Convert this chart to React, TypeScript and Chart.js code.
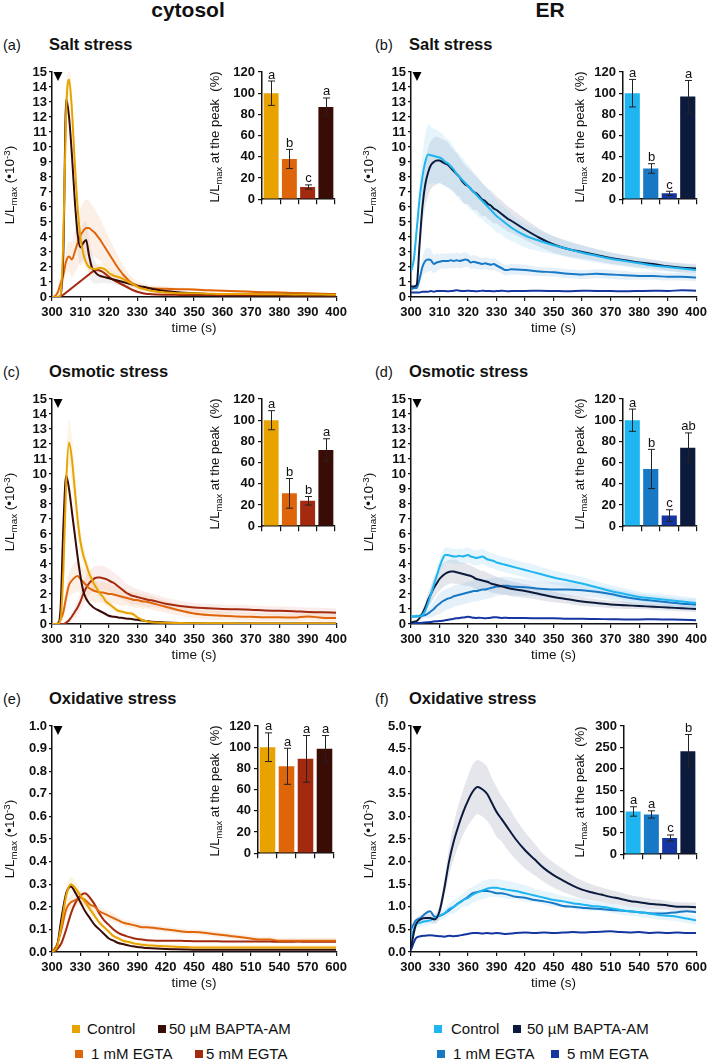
import React, { useEffect, useRef } from "react";
import { Chart, registerables } from "chart.js";

Chart.register(...registerables);

const FONT = '"Liberation Sans", Arial, Helvetica, sans-serif';
const INK = "#111111";
Chart.defaults.font.family = FONT;
Chart.defaults.color = INK;

// ---------------- time axes ----------------
const time100 = [
  300, 301, 302, 303, 304, 305, 306, 307, 308, 309,
  310, 311, 312, 313, 314, 315, 316, 317, 318, 319,
  320, 321, 322, 323, 324, 325, 326, 327, 328, 329,
  330, 331, 332, 333, 334, 335,
  340, 345, 350, 355, 360, 365, 370, 375, 380, 385, 390, 395, 400,
];
const time600 = [
  300, 305, 310, 315, 320, 325, 330, 335, 340, 345,
  350, 355, 360, 365, 370, 375, 380, 385, 390, 395,
  400, 410, 420, 430, 440, 450, 460, 470, 480, 490,
  500, 510, 520, 530, 540, 550, 560, 570, 580, 590, 600,
];

const treatmentNames = ["Control", "1 mM EGTA", "5 mM EGTA", "50 µM BAPTA-AM"];

// ---------------- (a) cytosol, salt ----------------
const aControl = [
  0, 0, 0, 0.1, 4, 12.5, 14.5, 12.5, 9, 6,
  4, 2.9, 2.3, 2.0, 1.9, 1.85, 1.9, 1.95, 1.9, 1.8,
  1.6, 1.5, 1.4, 1.35, 1.3, 1.2, 1.1, 1.0, 0.9, 0.8,
  0.7, 0.6, 0.55, 0.5, 0.45, 0.4,
  0.3, 0.25, 0.25, 0.22, 0.2, 0.2, 0.2, 0.18, 0.18, 0.17, 0.17, 0.16, 0.15,
];
const aControlSD = [
  0, 0, 0, 0.2, 0.8, 1.0, 1.0, 1.2, 1.0, 0.8,
  0.6, 0.5, 0.4, 0.35, 0.3, 0.3, 0.3, 0.3, 0.3, 0.3,
  0.3, 0.25, 0.25, 0.25, 0.2, 0.2, 0.2, 0.2, 0.15, 0.15,
  0.15, 0.1, 0.1, 0.1, 0.1, 0.1,
  0.1, 0.08, 0.08, 0.08, 0.08, 0.06, 0.06, 0.06, 0.06, 0.05, 0.05, 0.05, 0.05,
];
const aEGTA1 = [
  0, 0.05, 0.3, 0.9, 1.5, 2.4, 2.7, 2.5, 3.0, 3.6,
  4.1, 4.4, 4.6, 4.6, 4.45, 4.3, 4.05, 3.8, 3.5, 3.2,
  2.9, 2.6, 2.3, 2.0, 1.75, 1.5, 1.3, 1.1, 0.95, 0.85,
  0.75, 0.7, 0.65, 0.62, 0.6, 0.58,
  0.55, 0.52, 0.5, 0.45, 0.42, 0.38, 0.35, 0.32, 0.3, 0.27, 0.25, 0.22, 0.2,
];
const aEGTA1SD = [
  0, 0, 0.2, 0.4, 0.6, 0.8, 1.0, 1.2, 1.4, 1.6,
  1.8, 1.9, 1.9, 1.8, 1.7, 1.6, 1.5, 1.4, 1.3, 1.2,
  1.1, 1.0, 0.9, 0.8, 0.7, 0.6, 0.5, 0.45, 0.4, 0.35,
  0.3, 0.3, 0.25, 0.25, 0.2, 0.2,
  0.15, 0.1, 0.1, 0.08, 0.08, 0.08, 0.08, 0.06, 0.06, 0.06, 0.06, 0.05, 0.05,
];
const aEGTA5 = [
  0, 0, 0, 0.05, 0.15, 0.3, 0.45, 0.6, 0.75, 0.9,
  1.05, 1.2, 1.35, 1.5, 1.65, 1.75, 1.8, 1.75, 1.65, 1.5,
  1.35, 1.2, 1.1, 1.0, 0.9, 0.8, 0.7, 0.6, 0.5, 0.42,
  0.35, 0.3, 0.25, 0.22, 0.2, 0.18,
  0.15, 0.14, 0.13, 0.13, 0.12, 0.12, 0.12, 0.11, 0.11, 0.1, 0.1, 0.1, 0.1,
];
const aBAPTA = [
  0, 0, 0, 0, 3, 13.2, 12, 9.5, 6.5, 4.2,
  3.3, 3.6, 3.8, 2.8, 2.0, 1.7, 1.5, 1.4, 1.35, 1.3,
  1.25, 1.2, 1.15, 1.1, 1.05, 1.0, 0.95, 0.9, 0.85, 0.8,
  0.75, 0.7, 0.68, 0.65, 0.6, 0.55,
  0.4, 0.3, 0.25, 0.2, 0.2, 0.18, 0.18, 0.17, 0.16, 0.16, 0.15, 0.15, 0.15,
];
const aBAPTASD = [
  0, 0, 0, 0, 0.3, 0.5, 0.5, 0.6, 0.8, 1.0,
  1.2, 1.3, 1.3, 1.2, 1.0, 0.8, 0.6, 0.5, 0.4, 0.4,
  0.35, 0.3, 0.3, 0.3, 0.25, 0.25, 0.2, 0.2, 0.2, 0.15,
  0.15, 0.15, 0.1, 0.1, 0.1, 0.1,
  0.08, 0.06, 0.05, 0.05, 0.05, 0.05, 0.05, 0.05, 0.05, 0.05, 0.05, 0.05, 0.05,
];
const aPeak = [100, 38, 11.5, 87];
const aPeakSD = [11.5, 9, 2, 8.5];
const aLetters = ["a", "b", "c", "a"];

// ---------------- (b) ER, salt ----------------
const bControl = [
  1.7, 2.5, 4.5, 6.5, 8.0, 9.0, 9.5, 9.45, 9.4, 9.35,
  9.3, 9.2, 9.0, 8.9, 8.7, 8.5, 8.2, 8.0, 7.8, 7.6,
  7.4, 7.2, 7.0, 6.8, 6.6, 6.4, 6.2, 6.0, 5.8, 5.6,
  5.4, 5.25, 5.1, 4.95, 4.8, 4.65,
  4.1, 3.75, 3.45, 3.2, 2.95, 2.75, 2.55, 2.4, 2.25, 2.1, 2.0, 1.9, 1.8,
];
const bControlSD = [
  0.3, 0.5, 0.8, 1.2, 1.5, 1.8, 2.0, 1.9, 1.8, 1.8,
  1.7, 1.7, 1.6, 1.6, 1.6, 1.5, 1.5, 1.5, 1.5, 1.4,
  1.4, 1.4, 1.3, 1.3, 1.3, 1.2, 1.2, 1.2, 1.1, 1.1,
  1.1, 1.0, 1.0, 1.0, 0.95, 0.9,
  0.8, 0.7, 0.6, 0.55, 0.5, 0.45, 0.4, 0.38, 0.35, 0.33, 0.3, 0.3, 0.3,
];
const bEGTA1 = [
  0.5, 0.6, 0.6, 1.2, 2.0, 2.4, 2.5, 2.45, 2.2, 2.3,
  2.35, 2.4, 2.4, 2.4, 2.45, 2.4, 2.45, 2.4, 2.45, 2.5,
  2.45, 2.3, 2.35, 2.3, 2.25, 2.2, 2.25, 2.2, 2.15, 2.2,
  2.1, 2.0, 1.9, 1.8, 1.8, 1.85,
  1.8, 1.7, 1.65, 1.55, 1.5, 1.55, 1.5, 1.45, 1.4, 1.4, 1.35, 1.35, 1.3,
];
const bEGTA1SD = [
  0.1, 0.1, 0.2, 0.4, 0.6, 0.8, 0.8, 0.7, 0.6, 0.6,
  0.5, 0.5, 0.5, 0.5, 0.5, 0.5, 0.5, 0.5, 0.5, 0.5,
  0.45, 0.45, 0.45, 0.45, 0.4, 0.4, 0.4, 0.4, 0.4, 0.4,
  0.4, 0.35, 0.35, 0.35, 0.35, 0.35,
  0.35, 0.3, 0.3, 0.3, 0.3, 0.3, 0.3, 0.3, 0.25, 0.25, 0.25, 0.25, 0.25,
];
const bEGTA5 = [
  0.3, 0.3, 0.3, 0.3, 0.35, 0.35, 0.35, 0.4, 0.35, 0.4,
  0.4, 0.4, 0.4, 0.38, 0.4, 0.42, 0.45, 0.42, 0.4, 0.4,
  0.42, 0.4, 0.4, 0.38, 0.4, 0.42, 0.4, 0.4, 0.4, 0.38,
  0.4, 0.4, 0.42, 0.4, 0.38, 0.4,
  0.4, 0.42, 0.4, 0.38, 0.42, 0.4, 0.4, 0.38, 0.4, 0.42, 0.4, 0.45, 0.42,
];
const bBAPTA = [
  0.7, 0.7, 0.8, 3.5, 6.0, 7.5, 8.3, 8.8, 9.0, 9.1,
  9.1, 9.0, 8.9, 8.8, 8.6, 8.4, 8.2, 8.0, 7.7, 7.5,
  7.4, 7.2, 7.0, 6.9, 6.7, 6.5, 6.4, 6.2, 6.1, 5.9,
  5.8, 5.65, 5.5, 5.35, 5.2, 5.1,
  4.5, 3.95, 3.5, 3.2, 3.0, 2.8, 2.6, 2.45, 2.3, 2.2, 2.05, 1.95, 1.9,
];
const bBAPTASD = [
  0.1, 0.1, 0.2, 0.8, 1.2, 1.5, 1.6, 1.6, 1.6, 1.6,
  1.5, 1.5, 1.5, 1.5, 1.4, 1.4, 1.4, 1.3, 1.3, 1.3,
  1.2, 1.2, 1.2, 1.1, 1.1, 1.1, 1.0, 1.0, 1.0, 1.0,
  0.9, 0.9, 0.9, 0.85, 0.85, 0.8,
  0.7, 0.6, 0.55, 0.5, 0.45, 0.4, 0.38, 0.35, 0.33, 0.3, 0.3, 0.3, 0.3,
];
const bPeak = [100, 29, 5.5, 97];
const bPeakSD = [13, 4.5, 2, 15];
const bLetters = ["a", "b", "c", "a"];

// ---------------- (c) cytosol, osmotic ----------------
const cControl = [
  0, 0, 0, 0.3, 3.5, 9.5, 12.1, 11, 9, 7,
  5.5, 4.6, 4.0, 3.4, 3.0, 2.6, 2.3, 2.0, 1.8, 1.5,
  1.35, 1.2, 1.05, 0.9, 0.85, 0.8, 0.75, 0.72, 0.7, 0.6,
  0.45, 0.35, 0.25, 0.2, 0.15, 0.12,
  0.08, 0.06, 0.05, 0.05, 0.05, 0.04, 0.04, 0.04, 0.04, 0.04, 0.04, 0.04, 0.04,
];
const cControlSD = [
  0, 0, 0, 0.2, 0.8, 1.2, 1.5, 1.5, 1.2, 1.0,
  0.8, 0.7, 0.6, 0.5, 0.45, 0.4, 0.35, 0.3, 0.3, 0.3,
  0.25, 0.25, 0.2, 0.2, 0.2, 0.2, 0.15, 0.15, 0.15, 0.15,
  0.1, 0.1, 0.1, 0.1, 0.08, 0.08,
  0.05, 0.05, 0.05, 0.05, 0.04, 0.04, 0.04, 0.04, 0.04, 0.04, 0.04, 0.04, 0.04,
];
const cEGTA1 = [
  0, 0, 0.05, 0.3, 0.8, 1.8, 2.6, 2.9, 3.1, 3.2,
  3.0, 2.8, 2.6, 2.4, 2.3, 2.2, 2.15, 2.1, 2.1, 2.05,
  2.0, 2.0, 1.95, 1.9, 1.85, 1.8, 1.75, 1.7, 1.65, 1.6,
  1.6, 1.55, 1.5, 1.5, 1.45, 1.4,
  1.15, 0.9, 0.7, 0.6, 0.55, 0.5, 0.48, 0.45, 0.45, 0.43, 0.5, 0.42, 0.4,
];
const cEGTA1SD = [
  0, 0, 0, 0.2, 0.4, 0.6, 0.8, 0.9, 1.0, 1.0,
  1.0, 0.9, 0.9, 0.8, 0.8, 0.8, 0.7, 0.7, 0.7, 0.7,
  0.7, 0.6, 0.6, 0.6, 0.6, 0.6, 0.5, 0.5, 0.5, 0.5,
  0.5, 0.5, 0.5, 0.45, 0.45, 0.45,
  0.4, 0.35, 0.3, 0.3, 0.3, 0.25, 0.25, 0.25, 0.25, 0.25, 0.25, 0.25, 0.25,
];
const cEGTA5 = [
  0, 0, 0, 0, 0, 0.1, 0.25, 0.5, 0.8, 1.1,
  1.5, 2.0, 2.4, 2.7, 2.9, 3.05, 3.1, 3.1, 3.05, 3.0,
  2.9, 2.8, 2.7, 2.55, 2.4, 2.25, 2.1, 2.0, 1.9, 1.85,
  1.8, 1.75, 1.7, 1.65, 1.6, 1.58,
  1.35, 1.2, 1.1, 1.05, 1.0, 0.98, 0.95, 0.9, 0.88, 0.85, 0.8, 0.78, 0.75,
];
const cEGTA5SD = [
  0, 0, 0, 0, 0, 0.1, 0.2, 0.3, 0.4, 0.5,
  0.6, 0.7, 0.8, 0.8, 0.8, 0.8, 0.8, 0.8, 0.8, 0.8,
  0.75, 0.75, 0.7, 0.7, 0.7, 0.65, 0.6, 0.6, 0.6, 0.55,
  0.55, 0.5, 0.5, 0.5, 0.5, 0.45,
  0.4, 0.35, 0.3, 0.3, 0.3, 0.3, 0.3, 0.3, 0.3, 0.3, 0.3, 0.3, 0.3,
];
const cBAPTA = [
  0, 0, 0, 1.0, 6.5, 9.9, 9.0, 7.5, 6.0, 4.5,
  3.2, 2.2, 1.7, 1.4, 1.2, 1.05, 0.95, 0.85, 0.75, 0.65,
  0.55, 0.5, 0.48, 0.45, 0.42, 0.4, 0.37, 0.35, 0.33, 0.3,
  0.28, 0.25, 0.23, 0.2, 0.18, 0.15,
  0.1, 0.07, 0.05, 0.04, 0.04, 0.04, 0.04, 0.04, 0.04, 0.04, 0.04, 0.04, 0.04,
];
const cPeak = [100, 31, 24, 72];
const cPeakSD = [9, 14, 4, 10.5];
const cLetters = ["a", "b", "b", "a"];

// ---------------- (d) ER, osmotic ----------------
const dControl = [
  0.5, 0.5, 0.55, 0.5, 0.6, 0.9, 1.4, 2.0, 2.6, 3.2,
  3.8, 4.3, 4.6, 4.6, 4.55, 4.5, 4.5, 4.55, 4.5, 4.55,
  4.6, 4.5, 4.45, 4.4, 4.45, 4.5, 4.4, 4.3, 4.25, 4.2,
  4.1, 4.05, 4.0, 3.95, 3.9, 3.85,
  3.6, 3.35, 3.1, 2.9, 2.7, 2.45, 2.2, 2.0, 1.8, 1.7, 1.6, 1.5, 1.4,
];
const dControlSD = [
  0.1, 0.1, 0.1, 0.1, 0.2, 0.3, 0.4, 0.5, 0.5, 0.5,
  0.5, 0.5, 0.5, 0.5, 0.5, 0.5, 0.5, 0.5, 0.5, 0.5,
  0.5, 0.5, 0.5, 0.5, 0.5, 0.5, 0.5, 0.5, 0.5, 0.5,
  0.5, 0.5, 0.5, 0.5, 0.5, 0.5,
  0.5, 0.5, 0.45, 0.45, 0.45, 0.4, 0.4, 0.4, 0.35, 0.35, 0.35, 0.35, 0.35,
];
const dEGTA1 = [
  0.5, 0.5, 0.5, 0.55, 0.55, 0.6, 0.7, 0.85, 1.0, 1.2,
  1.35, 1.5, 1.6, 1.7, 1.75, 1.85, 1.9, 1.95, 2.0, 2.05,
  2.1, 2.15, 2.2, 2.2, 2.25, 2.3, 2.3, 2.35, 2.4, 2.45,
  2.5, 2.5, 2.55, 2.55, 2.55, 2.5,
  2.45, 2.35, 2.3, 2.3, 2.25, 2.15, 2.0, 1.8, 1.65, 1.55, 1.45, 1.35, 1.3,
];
const dEGTA1SD = [
  0.1, 0.1, 0.1, 0.1, 0.1, 0.2, 0.3, 0.4, 0.5, 0.6,
  0.7, 0.7, 0.7, 0.7, 0.7, 0.7, 0.7, 0.7, 0.7, 0.7,
  0.7, 0.7, 0.7, 0.7, 0.7, 0.7, 0.65, 0.65, 0.65, 0.65,
  0.6, 0.6, 0.6, 0.6, 0.6, 0.6,
  0.55, 0.5, 0.5, 0.45, 0.45, 0.4, 0.4, 0.4, 0.35, 0.35, 0.35, 0.35, 0.35,
];
const dEGTA5 = [
  0.05, 0.05, 0.06, 0.07, 0.08, 0.1, 0.12, 0.14, 0.16, 0.18,
  0.2, 0.22, 0.25, 0.28, 0.32, 0.35, 0.38, 0.4, 0.43, 0.45,
  0.48, 0.45, 0.42, 0.4, 0.42, 0.4, 0.38, 0.4, 0.42, 0.45,
  0.45, 0.42, 0.4, 0.42, 0.4, 0.4,
  0.4, 0.38, 0.38, 0.35, 0.35, 0.33, 0.32, 0.3, 0.3, 0.32, 0.3, 0.28, 0.25,
];
const dBAPTA = [
  0.1, 0.15, 0.2, 0.4, 0.7, 1.1, 1.6, 2.0, 2.4, 2.7,
  3.0, 3.2, 3.35, 3.45, 3.5, 3.5, 3.45, 3.4, 3.35, 3.3,
  3.25, 3.2, 3.1, 3.0, 2.95, 2.9, 2.85, 2.8, 2.7, 2.65,
  2.6, 2.55, 2.5, 2.45, 2.4, 2.35,
  2.2, 2.0, 1.8, 1.65, 1.5, 1.4, 1.3, 1.25, 1.2, 1.15, 1.1, 1.05, 1.0,
];
const dBAPTASD = [
  0, 0.05, 0.1, 0.2, 0.3, 0.4, 0.5, 0.6, 0.7, 0.7,
  0.8, 0.8, 0.8, 0.8, 0.8, 0.8, 0.8, 0.75, 0.75, 0.75,
  0.7, 0.7, 0.7, 0.7, 0.65, 0.65, 0.65, 0.6, 0.6, 0.6,
  0.55, 0.55, 0.55, 0.5, 0.5, 0.5,
  0.45, 0.4, 0.35, 0.3, 0.3, 0.25, 0.25, 0.25, 0.2, 0.2, 0.2, 0.2, 0.2,
];
const dPeak = [100, 54, 10, 74];
const dPeakSD = [10.5, 18.5, 5.5, 14];
const dLetters = ["a", "b", "c", "ab"];

// ---------------- (e) cytosol, oxidative ----------------
const eControl = [
  0, 0.02, 0.12, 0.25, 0.3, 0.28, 0.25, 0.22, 0.19, 0.16,
  0.13, 0.11, 0.09, 0.07, 0.06, 0.05, 0.045, 0.04, 0.035, 0.032,
  0.03, 0.028, 0.025, 0.023, 0.022, 0.02, 0.02, 0.02, 0.02, 0.02,
  0.02, 0.02, 0.02, 0.02, 0.02, 0.02, 0.02, 0.02, 0.02, 0.02, 0.02,
];
const eControlSD = [
  0, 0.01, 0.02, 0.03, 0.035, 0.03, 0.025, 0.02, 0.02, 0.015,
  0.015, 0.012, 0.01, 0.01, 0.01, 0.01, 0.01, 0.01, 0.01, 0.01,
  0.01, 0.01, 0.01, 0.01, 0.01, 0.01, 0.01, 0.01, 0.01, 0.01,
  0.01, 0.01, 0.01, 0.01, 0.01, 0.01, 0.01, 0.01, 0.01, 0.01, 0.01,
];
const eEGTA1 = [
  0, 0.03, 0.1, 0.19, 0.22, 0.23, 0.24, 0.23, 0.21, 0.2,
  0.18, 0.17, 0.16, 0.15, 0.14, 0.13, 0.125, 0.12, 0.115, 0.11,
  0.11, 0.105, 0.1, 0.095, 0.09, 0.088, 0.085, 0.08, 0.075, 0.07,
  0.065, 0.06, 0.055, 0.055, 0.05, 0.05, 0.05, 0.05, 0.05, 0.05, 0.05,
];
const eEGTA1SD = [
  0, 0.01, 0.02, 0.03, 0.03, 0.03, 0.03, 0.03, 0.025, 0.025,
  0.02, 0.02, 0.02, 0.02, 0.015, 0.015, 0.015, 0.015, 0.015, 0.015,
  0.012, 0.012, 0.012, 0.012, 0.012, 0.012, 0.012, 0.012, 0.012, 0.012,
  0.012, 0.012, 0.012, 0.012, 0.012, 0.012, 0.012, 0.012, 0.012, 0.012, 0.012,
];
const eEGTA5 = [
  0, 0.01, 0.04, 0.1, 0.17, 0.22, 0.25, 0.26, 0.24, 0.21,
  0.17, 0.14, 0.12, 0.1, 0.085, 0.075, 0.068, 0.062, 0.058, 0.055,
  0.052, 0.05, 0.05, 0.05, 0.049, 0.048, 0.048, 0.048, 0.047, 0.047,
  0.047, 0.046, 0.046, 0.046, 0.045, 0.045, 0.046, 0.045, 0.045, 0.045, 0.045,
];
const eBAPTA = [
  0, 0.02, 0.15, 0.26, 0.29, 0.26, 0.22, 0.18, 0.15, 0.12,
  0.1, 0.08, 0.06, 0.05, 0.04, 0.035, 0.03, 0.025, 0.022, 0.02,
  0.018, 0.015, 0.013, 0.012, 0.011, 0.01, 0.01, 0.01, 0.01, 0.01,
  0.01, 0.01, 0.01, 0.01, 0.01, 0.01, 0.01, 0.01, 0.01, 0.01, 0.01,
];
const ePeak = [100, 82, 89, 98.5];
const ePeakSD = [13.5, 17, 22, 12.5];
const eLetters = ["a", "a", "a", "a"];

// ---------------- (f) ER, oxidative ----------------
const fControl = [
  0.3, 0.6, 0.65, 0.68, 0.7, 0.75, 0.8, 0.85, 0.95, 1.0,
  1.08, 1.15, 1.2, 1.27, 1.32, 1.36, 1.4, 1.42, 1.42, 1.4,
  1.38, 1.35, 1.3, 1.25, 1.2, 1.15, 1.12, 1.08, 1.05, 1.02,
  1.0, 0.97, 0.93, 0.9, 0.88, 0.85, 0.82, 0.8, 0.78, 0.74, 0.7,
];
const fControlSD = [
  0.05, 0.1, 0.1, 0.1, 0.1, 0.1, 0.1, 0.12, 0.12, 0.15,
  0.15, 0.15, 0.18, 0.18, 0.18, 0.2, 0.2, 0.2, 0.2, 0.2,
  0.2, 0.18, 0.18, 0.15, 0.15, 0.15, 0.12, 0.12, 0.12, 0.1,
  0.1, 0.1, 0.1, 0.1, 0.1, 0.1, 0.1, 0.1, 0.1, 0.1, 0.1,
];
const fEGTA1 = [
  0.5, 0.7, 0.75, 0.85, 0.9, 0.78, 0.8, 0.85, 0.92, 1.0,
  1.08, 1.15, 1.22, 1.3, 1.33, 1.35, 1.35, 1.33, 1.3, 1.3,
  1.28, 1.22, 1.2, 1.15, 1.12, 1.08, 1.02, 1.0, 0.98, 0.96,
  0.95, 0.93, 0.92, 0.9, 0.88, 0.86, 0.85, 0.86, 0.88, 0.9, 0.88,
];
const fEGTA5 = [
  0.05, 0.3, 0.35, 0.36, 0.37, 0.36, 0.35, 0.34, 0.36, 0.35,
  0.36, 0.38, 0.4, 0.42, 0.42, 0.41, 0.42, 0.41, 0.42, 0.41,
  0.4, 0.42, 0.43, 0.42, 0.43, 0.42, 0.43, 0.44, 0.43, 0.44,
  0.45, 0.46, 0.44, 0.43, 0.44, 0.42, 0.43, 0.42, 0.43, 0.42, 0.42,
];
const fBAPTA = [
  0.1, 0.6, 0.72, 0.75, 0.75, 0.72, 0.9, 1.4, 2.0, 2.45,
  2.8, 3.1, 3.35, 3.55, 3.65, 3.6, 3.5, 3.3, 3.1, 2.95,
  2.8, 2.5, 2.25, 2.05, 1.85, 1.7, 1.58, 1.47, 1.38, 1.32,
  1.27, 1.22, 1.18, 1.13, 1.1, 1.07, 1.05, 1.03, 1.0, 1.0, 0.99,
];
const fBAPTASD = [
  0.05, 0.1, 0.1, 0.1, 0.1, 0.1, 0.15, 0.2, 0.3, 0.4,
  0.45, 0.5, 0.55, 0.6, 0.6, 0.6, 0.6, 0.55, 0.55, 0.5,
  0.5, 0.45, 0.4, 0.35, 0.3, 0.28, 0.25, 0.22, 0.2, 0.18,
  0.16, 0.15, 0.14, 0.13, 0.12, 0.12, 0.11, 0.1, 0.1, 0.1, 0.1,
];
const fPeak = [100, 93, 38, 241];
const fPeakSD = [11, 8.5, 7, 39];
const fLetters = ["a", "a", "c", "b"];

// ---------------- colours ----------------
const cytoColors = ["#E9A300", "#DF650A", "#A3290F", "#3A0C06"];
const erColors = ["#1FB5F0", "#1779C6", "#1536A1", "#0B1A3D"];
const cytoBand = ["rgba(240,200,120,0.2)", "rgba(242,175,125,0.2)", "rgba(225,160,150,0.18)", "rgba(175,165,165,0.18)"];
const erBand = ["rgba(140,205,240,0.22)", "rgba(130,180,225,0.2)", "rgba(120,140,210,0.2)", "rgba(185,190,205,0.38)"];

// ---------------- plugins ----------------
const stimulusPlugin = {
  id: "stimulus",
  afterDraw(chart: any) {
    const { ctx, chartArea } = chart;
    const x0 = chartArea.left + 6;
    const y0 = chartArea.top;
    ctx.save();
    ctx.fillStyle = "#000";
    ctx.beginPath();
    ctx.moveTo(x0 - 4.5, y0);
    ctx.lineTo(x0 + 4.5, y0);
    ctx.lineTo(x0, y0 + 9);
    ctx.closePath();
    ctx.fill();
    ctx.restore();
  },
};

const errorBarPlugin = {
  id: "errBars",
  afterDatasetsDraw(chart: any, _args: any, opts: any) {
    const { ctx } = chart;
    const y = chart.scales.y;
    const meta = chart.getDatasetMeta(0);
    const vals = chart.data.datasets[0].data;
    ctx.save();
    meta.data.forEach((bar: any, i: number) => {
      const v = vals[i];
      const yt = y.getPixelForValue(v + opts.errs[i]);
      const yb = y.getPixelForValue(v - opts.errs[i]);
      const x = Math.round(bar.x) + 0.5;
      ctx.strokeStyle = "#222";
      ctx.lineWidth = 1;
      ctx.beginPath();
      ctx.moveTo(x, yt);
      ctx.lineTo(x, yb);
      ctx.moveTo(x - 3.5, yt);
      ctx.lineTo(x + 3.5, yt);
      ctx.moveTo(x - 3.5, yb);
      ctx.lineTo(x + 3.5, yb);
      ctx.stroke();
      ctx.fillStyle = INK;
      ctx.font = `13px ${FONT}`;
      ctx.textAlign = "center";
      ctx.textBaseline = "alphabetic";
      ctx.fillText(opts.letters[i], x, yt - 2.5);
    });
    ctx.restore();
  },
};

// ---------------- components ----------------
function LineChart({ cfg }: any) {
  const ref = useRef<HTMLCanvasElement>(null);
  const { plot, times, series, xMax, xStep, yMax, yStep, dec } = cfg;
  const YW = 52, XH = 40, PT = 12, PR = 14;
  const w = plot.r - plot.l + YW + PR;
  const h = plot.b - plot.t + PT + XH;
  useEffect(() => {
    const datasets: any[] = [];
    series.forEach((s: any) => {
      if (s.sd) {
        datasets.push({
          data: times.map((t: number, i: number) => ({ x: t, y: s.values[i] + s.sd[i] })),
          borderColor: "transparent", borderWidth: 0, pointRadius: 0, fill: false, order: 10,
          cubicInterpolationMode: "monotone",
        });
        datasets.push({
          data: times.map((t: number, i: number) => ({ x: t, y: Math.max(0, s.values[i] - s.sd[i]) })),
          borderColor: "transparent", borderWidth: 0, pointRadius: 0, fill: "-1",
          backgroundColor: s.band, order: 10, cubicInterpolationMode: "monotone",
        });
      }
    });
    series.forEach((s: any) => {
      datasets.push({
        data: times.map((t: number, i: number) => ({ x: t, y: s.values[i] })),
        borderColor: s.color, borderWidth: 2, pointRadius: 0, fill: false, order: s.order,
        cubicInterpolationMode: "monotone",
      });
    });
    const chart = new Chart(ref.current as HTMLCanvasElement, {
      type: "line",
      data: { datasets },
      options: {
        responsive: false,
        animation: false,
        events: [],
        layout: { padding: { top: PT, right: PR, left: 0, bottom: 0 } },
        plugins: { legend: { display: false }, tooltip: { enabled: false } },
        scales: {
          x: {
            type: "linear", min: 300, max: xMax,
            ticks: { stepSize: xStep, autoSkip: false, maxRotation: 0, padding: 4, color: INK, font: { size: 13, weight: "bold" } },
            grid: { drawOnChartArea: false, drawTicks: true, tickLength: 4, tickColor: INK, lineWidth: 1.2 },
            border: { color: INK, width: 1.5 },
            title: { display: true, text: "time (s)", color: INK, font: { size: 13.5 }, padding: { top: 0, bottom: 1 } },
            afterFit: (s: any) => { s.height = XH; },
          },
          y: {
            min: 0, max: yMax,
            ticks: { stepSize: yStep, autoSkip: false, padding: 2, color: INK, font: { size: 13, weight: "bold" },
              callback: (v: any) => Number(v).toFixed(dec) },
            grid: { drawOnChartArea: false, drawTicks: true, tickLength: 3, tickColor: INK, lineWidth: 1.2 },
            border: { color: INK, width: 1.5 },
            afterFit: (s: any) => { s.width = YW; },
          },
        },
      } as any,
      plugins: [stimulusPlugin],
    });
    return () => chart.destroy();
  }, []);
  return (
    <canvas ref={ref} width={w} height={h}
      style={{ position: "absolute", left: plot.l - YW, top: plot.t - PT, width: w, height: h }} />
  );
}

function InsetBar({ cfg }: any) {
  const ref = useRef<HTMLCanvasElement>(null);
  const { plot, values, errs, letters, colors, yMax, yStep } = cfg;
  const YW = 50, XH = 8, PT = 16, PR = 4;
  const w = plot.r - plot.l + YW + PR;
  const h = plot.b - plot.t + PT + XH;
  useEffect(() => {
    const chart = new Chart(ref.current as HTMLCanvasElement, {
      type: "bar",
      data: {
        labels: treatmentNames,
        datasets: [{ data: values, backgroundColor: colors, borderWidth: 0, barPercentage: 0.82, categoryPercentage: 1 }],
      },
      options: {
        responsive: false,
        animation: false,
        events: [],
        layout: { padding: { top: PT, right: PR, left: 0, bottom: 0 } },
        plugins: { legend: { display: false }, tooltip: { enabled: false }, errBars: { errs, letters } },
        scales: {
          x: {
            ticks: { display: false },
            grid: { offset: true, drawOnChartArea: false, drawTicks: true, tickLength: 5, tickColor: INK, lineWidth: 1.2 },
            border: { color: INK, width: 1.5 },
            afterFit: (s: any) => { s.height = XH; },
          },
          y: {
            min: 0, max: yMax,
            ticks: { stepSize: yStep, autoSkip: false, padding: 3, color: INK, font: { size: 13, weight: "bold" } },
            grid: { drawOnChartArea: false, drawTicks: true, tickLength: 4, tickColor: INK, lineWidth: 1.2 },
            border: { color: INK, width: 1.5 },
            afterFit: (s: any) => { s.width = YW; },
          },
        },
      } as any,
      plugins: [errorBarPlugin],
    });
    return () => chart.destroy();
  }, []);
  return (
    <canvas ref={ref} width={w} height={h}
      style={{ position: "absolute", left: plot.l - YW, top: plot.t - PT, width: w, height: h }} />
  );
}

function Txt({ x, y, size, weight = "normal", center = false, children }: any) {
  return (
    <div style={{
      position: "absolute", left: x, top: y - size * 0.8465, fontFamily: FONT, fontSize: size,
      fontWeight: weight, lineHeight: `${size}px`, whiteSpace: "nowrap", color: INK,
      transform: center ? "translateX(-50%)" : undefined,
    }}>{children}</div>
  );
}

function VTxt({ cx, cy, size, children }: any) {
  return (
    <div style={{
      position: "absolute", left: cx, top: cy, fontFamily: FONT, fontSize: size, lineHeight: 1,
      whiteSpace: "nowrap", color: INK, transform: "translate(-50%,-50%) rotate(-90deg)",
    }}>{children}</div>
  );
}

const sub = { fontSize: "0.72em", verticalAlign: "-0.3em" } as any;
const sup = { fontSize: "0.72em", verticalAlign: "0.45em" } as any;

function MainYTitle({ cx, cy }: any) {
  return (
    <VTxt cx={cx} cy={cy} size={13.5}>
      L/L<span style={sub}>max</span> (•10<span style={sup}>-3</span>)
    </VTxt>
  );
}
function InsetYTitle({ cx, cy }: any) {
  return (
    <VTxt cx={cx} cy={cy} size={13}>
      L/L<span style={sub}>max</span> at the peak&nbsp;&nbsp;(%)
    </VTxt>
  );
}

function mk(values: number[], sd: number[] | undefined, i: number, colors: string[], bands: string[], order: number) {
  return { values, sd, color: colors[i], band: bands[i], order };
}

const panels = [
  {
    plot: { l: 52, t: 72, r: 337, b: 297 }, times: time100, xMax: 400, xStep: 10, yMax: 15, yStep: 1, dec: 0,
    series: [
      mk(aControl, aControlSD, 0, cytoColors, cytoBand, 0),
      mk(aEGTA1, aEGTA1SD, 1, cytoColors, cytoBand, 2),
      mk(aEGTA5, undefined, 2, cytoColors, cytoBand, 3),
      mk(aBAPTA, aBAPTASD, 3, cytoColors, cytoBand, 1),
    ],
  },
  {
    plot: { l: 411, t: 72, r: 697, b: 297 }, times: time100, xMax: 400, xStep: 10, yMax: 15, yStep: 1, dec: 0,
    series: [
      mk(bControl, bControlSD, 0, erColors, erBand, 0),
      mk(bEGTA1, bEGTA1SD, 1, erColors, erBand, 2),
      mk(bEGTA5, undefined, 2, erColors, erBand, 3),
      mk(bBAPTA, bBAPTASD, 3, erColors, erBand, 1),
    ],
  },
  {
    plot: { l: 52, t: 399, r: 337, b: 624 }, times: time100, xMax: 400, xStep: 10, yMax: 15, yStep: 1, dec: 0,
    series: [
      mk(cControl, cControlSD, 0, cytoColors, cytoBand, 0),
      mk(cEGTA1, cEGTA1SD, 1, cytoColors, cytoBand, 2),
      mk(cEGTA5, cEGTA5SD, 2, cytoColors, cytoBand, 3),
      mk(cBAPTA, undefined, 3, cytoColors, cytoBand, 1),
    ],
  },
  {
    plot: { l: 411, t: 399, r: 697, b: 624 }, times: time100, xMax: 400, xStep: 10, yMax: 15, yStep: 1, dec: 0,
    series: [
      mk(dControl, dControlSD, 0, erColors, erBand, 0),
      mk(dEGTA1, dEGTA1SD, 1, erColors, erBand, 2),
      mk(dEGTA5, undefined, 2, erColors, erBand, 3),
      mk(dBAPTA, dBAPTASD, 3, erColors, erBand, 1),
    ],
  },
  {
    plot: { l: 52, t: 726, r: 337, b: 952 }, times: time600, xMax: 600, xStep: 30, yMax: 1, yStep: 0.1, dec: 1,
    series: [
      mk(eControl, eControlSD, 0, cytoColors, cytoBand, 0),
      mk(eEGTA1, eEGTA1SD, 1, cytoColors, cytoBand, 2),
      mk(eEGTA5, undefined, 2, cytoColors, cytoBand, 3),
      mk(eBAPTA, undefined, 3, cytoColors, cytoBand, 1),
    ],
  },
  {
    plot: { l: 411, t: 726, r: 697, b: 952 }, times: time600, xMax: 600, xStep: 30, yMax: 5, yStep: 0.5, dec: 1,
    series: [
      mk(fControl, fControlSD, 0, erColors, erBand, 1),
      mk(fEGTA1, undefined, 1, erColors, erBand, 2),
      mk(fEGTA5, undefined, 2, erColors, erBand, 3),
      mk(fBAPTA, fBAPTASD, 3, erColors, erBand, 0),
    ],
  },
];

const insets = [
  { plot: { l: 262, t: 72, r: 335, b: 202 }, values: aPeak, errs: aPeakSD, letters: aLetters, colors: cytoColors, yMax: 120, yStep: 20 },
  { plot: { l: 623, t: 72, r: 697, b: 202 }, values: bPeak, errs: bPeakSD, letters: bLetters, colors: erColors, yMax: 120, yStep: 20 },
  { plot: { l: 262, t: 399, r: 335, b: 529 }, values: cPeak, errs: cPeakSD, letters: cLetters, colors: cytoColors, yMax: 120, yStep: 20 },
  { plot: { l: 623, t: 399, r: 697, b: 529 }, values: dPeak, errs: dPeakSD, letters: dLetters, colors: erColors, yMax: 120, yStep: 20 },
  { plot: { l: 258, t: 726, r: 334, b: 856 }, values: ePeak, errs: ePeakSD, letters: eLetters, colors: cytoColors, yMax: 120, yStep: 20 },
  { plot: { l: 624, t: 726, r: 697, b: 857 }, values: fPeak, errs: fPeakSD, letters: fLetters, colors: erColors, yMax: 300, yStep: 50 },
];

const panelTitles = [
  { tag: "(a)", title: "Salt stress", x0: 3, x1: 49, y: 50 },
  { tag: "(b)", title: "Salt stress", x0: 375, x1: 409, y: 50 },
  { tag: "(c)", title: "Osmotic stress", x0: 3, x1: 49, y: 377 },
  { tag: "(d)", title: "Osmotic stress", x0: 375, x1: 409, y: 377 },
  { tag: "(e)", title: "Oxidative stress", x0: 3, x1: 49, y: 704 },
  { tag: "(f)", title: "Oxidative stress", x0: 375, x1: 409, y: 704 },
];

// legend layout: [series index, square x, text x, baseline]
const legendCyto = [[0, 72, 87, 1034], [3, 158, 169, 1034], [1, 75, 91, 1059], [2, 195, 206, 1059]];
const legendER = [[0, 434, 451, 1034], [3, 513, 527, 1034], [1, 437, 453, 1059], [2, 551, 567, 1059]];

export default function App() {
  return (
    <div style={{ position: "absolute", left: 0, top: 0, width: 709, height: 1061, overflow: "hidden", background: "#fff" }}>
      {panels.map((p, i) => <LineChart key={"l" + i} cfg={p} />)}
      {insets.map((p, i) => <InsetBar key={"b" + i} cfg={p} />)}

      <Txt x={188} y={17} size={21} weight="bold" center>cytosol</Txt>
      <Txt x={550} y={17} size={21} weight="bold" center>ER</Txt>

      {panelTitles.map((t, i) => (
        <React.Fragment key={"t" + i}>
          <Txt x={t.x0} y={t.y} size={14.5}>{t.tag}</Txt>
          <Txt x={t.x1} y={t.y} size={16.5} weight="bold">{t.title}</Txt>
        </React.Fragment>
      ))}

      {panels.map((p, i) => (
        <MainYTitle key={"y" + i} cx={i % 2 === 0 ? 10 : 369} cy={(p.plot.t + p.plot.b) / 2} />
      ))}
      {insets.map((p, i) => (
        <InsetYTitle key={"iy" + i} cx={i % 2 === 0 ? 216 : 581} cy={(p.plot.t + p.plot.b) / 2} />
      ))}

      {legendCyto.map(([k, sx, tx, by], i) => (
        <React.Fragment key={"lc" + i}>
          <div style={{ position: "absolute", left: sx, top: by - 9, width: 8, height: 8, background: cytoColors[k] }} />
          <Txt x={tx} y={by} size={15}>{treatmentNames[k]}</Txt>
        </React.Fragment>
      ))}
      {legendER.map(([k, sx, tx, by], i) => (
        <React.Fragment key={"le" + i}>
          <div style={{ position: "absolute", left: sx, top: by - 9, width: 8, height: 8, background: erColors[k] }} />
          <Txt x={tx} y={by} size={15}>{treatmentNames[k]}</Txt>
        </React.Fragment>
      ))}
    </div>
  );
}
